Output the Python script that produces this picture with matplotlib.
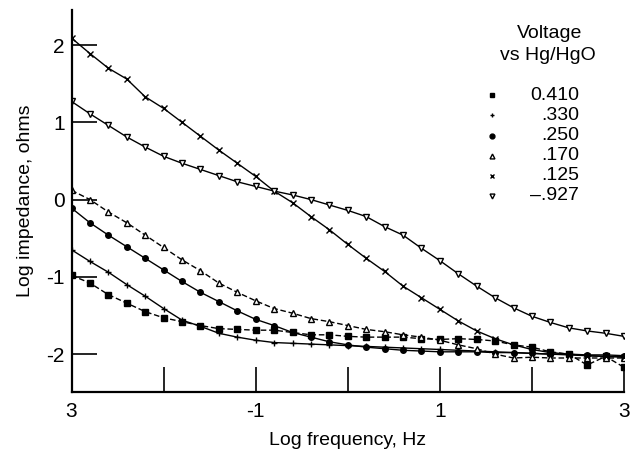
import matplotlib
matplotlib.use("Agg")
import matplotlib.pyplot as plt

plt.rcParams['font.family'] = ['Liberation Sans', 'DejaVu Sans']
plt.rcParams['axes.unicode_minus'] = False

# log frequency (Hz), 5 points per decade
log_freq = [-3.0, -2.8, -2.6, -2.4, -2.2, -2.0, -1.8, -1.6, -1.4, -1.2, -1.0,
            -0.8, -0.6, -0.4, -0.2, 0.0, 0.2, 0.4, 0.6, 0.8, 1.0,
            1.2, 1.4, 1.6, 1.8, 2.0, 2.2, 2.4, 2.6, 2.8, 3.0]

# log impedance (ohms), one list per potential vs Hg/HgO
z_0410 = [-0.98, -1.08, -1.23, -1.34, -1.45, -1.53, -1.58, -1.63, -1.67, -1.68, -1.69,
          -1.69, -1.72, -1.75, -1.75, -1.77, -1.78, -1.78, -1.78, -1.80, -1.81,
          -1.80, -1.81, -1.83, -1.88, -1.91, -1.97, -2.00, -2.14, -2.03, -2.17]
z_0330 = [-0.65, -0.80, -0.94, -1.10, -1.25, -1.41, -1.56, -1.64, -1.73, -1.78, -1.82,
          -1.85, -1.86, -1.87, -1.88, -1.89, -1.90, -1.91, -1.92, -1.93, -1.94,
          -1.95, -1.96, -1.97, -1.98, -1.99, -2.00, -2.01, -2.02, -2.03, -2.03]
z_0250 = [-0.11, -0.30, -0.46, -0.61, -0.76, -0.91, -1.06, -1.20, -1.32, -1.44, -1.55,
          -1.63, -1.72, -1.78, -1.84, -1.88, -1.91, -1.93, -1.95, -1.96, -1.97,
          -1.97, -1.97, -1.98, -1.98, -1.99, -2.00, -2.00, -2.01, -2.01, -2.02]
z_0170 = [0.12, 0.00, -0.16, -0.30, -0.46, -0.62, -0.78, -0.92, -1.08, -1.20, -1.31,
          -1.41, -1.47, -1.54, -1.58, -1.63, -1.68, -1.71, -1.75, -1.78, -1.82,
          -1.88, -1.93, -2.00, -2.05, -2.04, -2.05, -2.05, -2.05, -2.05, -2.05]
z_0125 = [2.09, 1.89, 1.70, 1.56, 1.33, 1.18, 1.00, 0.82, 0.64, 0.47, 0.30,
          0.11, -0.04, -0.22, -0.39, -0.58, -0.76, -0.93, -1.12, -1.27, -1.42,
          -1.57, -1.70, -1.80, -1.88, -1.94, -1.98, -2.00, -2.02, -2.03, -2.04]
z_m0927 = [1.27, 1.11, 0.96, 0.81, 0.68, 0.56, 0.47, 0.39, 0.31, 0.23, 0.17,
           0.11, 0.06, 0.00, -0.07, -0.14, -0.22, -0.35, -0.46, -0.63, -0.79,
           -0.96, -1.12, -1.27, -1.40, -1.51, -1.59, -1.66, -1.70, -1.73, -1.77]

labels = ["0.410", ".330", ".250", ".170", ".125", "\u2013.927"]
series = [z_0410, z_0330, z_0250, z_0170, z_0125, z_m0927]
markers = ["s", "+", "o", "^", "x", "v"]
faces = ["black", "black", "black", "white", "black", "white"]
styles = ["--", "-", "-", "--", "-", "-"]

W, H = 632, 455
fig = plt.figure(figsize=(W / 100, H / 100), dpi=100)
ax = fig.add_axes([71.5 / W, 1 - 392 / H, (624 - 71.5) / W, (392 - 10) / H])

for ys, m, fc, ls in zip(series, markers, faces, styles):
    ax.plot(log_freq, ys, linestyle=ls, color="black", lw=1.0,
            marker=m, markersize=4, markerfacecolor=fc, markeredgecolor="black",
            markeredgewidth=1.0, dashes=(4, 2) if ls == "--" else (None, None))

ax.set_xlim(-3, 3)
ax.set_ylim(-2.49, 2.453)
ax.spines['top'].set_visible(False)
ax.spines['right'].set_visible(False)
ax.spines['left'].set_linewidth(1.6)
ax.spines['bottom'].set_linewidth(1.6)

ax.set_xticks([-3, -2, -1, 0, 1, 2, 3])
ax.set_xticklabels(["3", "", "-1", "", "1", "", "3"])
ax.set_yticks([2, 1, 0, -1, -2])
ax.set_yticklabels(["2", "1", "0", "-1", "-2"])
ax.tick_params(direction="in", length=18, width=1.2, labelsize=15)
ax.tick_params(axis="x", pad=7)
ax.tick_params(axis="y", pad=5)

ax.set_xlabel("Log frequency, Hz", fontsize=14, labelpad=8)
ax.set_ylabel("Log impedance, ohms", fontsize=14, labelpad=9)

# legend drawn by hand: centred title, marker column, right-aligned values
fig.text(550 / W, 1 - 33 / H, "Voltage", ha="center", va="center", fontsize=14)
fig.text(548 / W, 1 - 55 / H, "vs Hg/HgO", ha="center", va="center", fontsize=14)
leg_y = [95, 115, 136, 156, 176, 196]
for lab, m, fc, yy in zip(labels, markers, faces, leg_y):
    ax.plot([492 / W], [1 - yy / H], transform=fig.transFigure, clip_on=False,
            linestyle="none", marker=m, markersize=3.5, color="black",
            markerfacecolor=fc, markeredgewidth=1.0)
    fig.text(579 / W, 1 - yy / H, lab, ha="right", va="center", fontsize=14)

fig.savefig("out.png", dpi=100)
